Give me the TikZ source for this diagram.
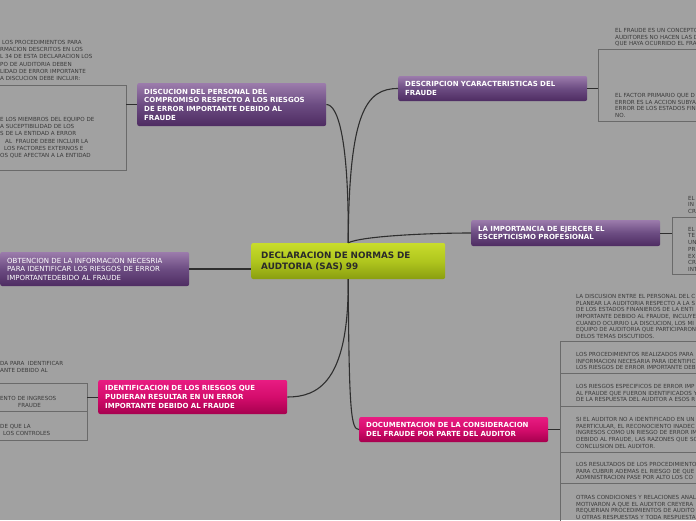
\documentclass[tikz,border=0pt]{standalone}
\usepackage{fontspec}
\setmainfont{DejaVu Sans}
\usepackage[HTML]{xcolor}
\usetikzlibrary{positioning}

\definecolor{bgGray}{HTML}{A1A1A1}
\definecolor{branchDark}{HTML}{2E2E2E}
\definecolor{leafLine}{HTML}{6A6A6A}
\definecolor{leafText}{HTML}{3A3A3A}
\definecolor{purpleTop}{HTML}{9C7CAC}
\definecolor{purpleMid}{HTML}{6C4C82}
\definecolor{purpleBot}{HTML}{4E2C62}
\definecolor{pinkTop}{HTML}{E81C82}
\definecolor{pinkMid}{HTML}{D40C6C}
\definecolor{pinkBot}{HTML}{A6004E}
\definecolor{limeTop}{HTML}{C8DC2C}
\definecolor{limeMid}{HTML}{B0C61E}
\definecolor{limeBot}{HTML}{8A9E10}
\definecolor{mainText}{HTML}{2A2A2A}

\tikzset{
  topic/.style={anchor=west, rounded corners=2pt, text width=175pt, inner xsep=7pt,
    inner ysep=2pt, align=left, text=white, font=\fontsize{7}{8.7}\selectfont\bfseries},
  purpleTopic/.style={topic, top color=purpleTop, bottom color=purpleBot, middle color=purpleMid},
  pinkTopic/.style={topic, top color=pinkTop, bottom color=pinkBot, middle color=pinkMid},
  mainTopic/.style={topic, text width=174pt, inner xsep=10pt, text=mainText,
    font=\fontsize{8.8}{11}\selectfont\bfseries,
    top color=limeTop, bottom color=limeBot, middle color=limeMid},
  leaf/.style={anchor=north west, inner sep=0pt, align=left, text=leafText,
    font=\fontsize{5.6}{6.7}\selectfont},
  wideLeaf/.style={leaf, font=\fontsize{5.6}{7.3}\selectfont},
  branch/.style={draw=branchDark, line width=1.1pt},
  stub/.style={draw=branchDark, line width=0.8pt},
  bracket/.style={draw=leafLine, line width=0.8pt}
}

\begin{document}
\begin{tikzpicture}[x=1pt,y=-1pt]
\useasboundingbox (0,0) rectangle (696,520);
\fill[bgGray] (0,0) rectangle (696,520);
\clip (0,0) rectangle (696,520);

% central topic
\node[mainTopic, minimum height=36pt] (sas) at (251,261) {DECLARACION DE NORMAS DE\\AUDTORIA (SAS) 99};

% main branches
\node[purpleTopic, minimum height=43pt] (discu) at (137,104.5) {DISCUCION DEL PERSONAL DEL\\COMPROMISO RESPECTO A LOS RIESGOS\\DE ERROR IMPORTANTE DEBIDO AL\\FRAUDE};
\node[purpleTopic, minimum height=25pt] (descr) at (398,88.5) {DESCRIPCION YCARACTERISTICAS DEL\\FRAUDE};
\node[purpleTopic, minimum height=26pt] (escep) at (471,233) {LA IMPORTANCIA DE EJERCER EL\\ESCEPTICISMO PROFESIONAL};
\node[purpleTopic, minimum height=34pt, font=\fontsize{7}{8.5}\selectfont] (obten) at (0,269) {OBTENCION DE LA INFORMACION NECESRIA\\PARA IDENTIFICAR LOS RIESGOS DE ERROR\\IMPORTANTEDEBIDO AL FRAUDE};
\node[pinkTopic, minimum height=34pt] (ident) at (98,397) {IDENTIFICACION DE LOS RIESGOS QUE\\PUDIERAN RESULTAR EN UN ERROR\\IMPORTANTE DEBIDO AL FRAUDE};
\node[pinkTopic, minimum height=25pt] (docum) at (359,429.5) {DOCUMENTACION DE LA CONSIDERACION\\DEL FRAUDE POR PARTE DEL AUDITOR};

\draw[branch] (sas.north) .. controls (349,140) and (338,104.5) .. (discu.east);
\draw[branch] (sas.north) .. controls (349,112) and (366,88.5) .. (descr.west);
\draw[branch] (sas.north) .. controls (362,236) and (430,233) .. (escep.west);
\draw[branch] (obten.east) -- (obten.east -| sas.west);
\draw[branch] (sas.south) .. controls (349,382) and (318,397) .. (ident.east);
\draw[branch] (sas.south) .. controls (349,412) and (351,429.5) .. (docum.west);

% discucion: leaves
\coordinate (discuIn) at (126,104.5);
\draw[bracket] (0,85) -- (126,85) -- (126,170) -- (0,170);
\draw[stub] (discu.west) -- (discuIn);
\node[wideLeaf] (procA) at (2,40) {LOS PROCEDIMIENTOS PARA};
\node[wideLeaf] (procB) at (0,47.3) {RMACION DESCRITOS EN LOS\\L 34 DE ESTA DECLARACION LOS\\PO DE AUDITORIA DEBEN\\LIDAD DE ERROR IMPORTANTE\\A DISCUCION DEBE INCLUIR:};
\node[wideLeaf] (miembros) at (0,117) {E LOS MIEMBROS DEL EQUIPO DE\\A SUCEPTIBILIDAD DE LOS\\S DE LA ENTIDAD A ERROR\\\hspace*{5pt}AL\ \ FRAUDE DEBE INCLUIR LA\\\hspace*{4pt}LOS FACTORES EXTERNOS E\\OS QUE AFECTAN A LA ENTIDAD};

% descripcion: leaves
\coordinate (descrIn) at (598,88.5);
\draw[bracket] (696,49) -- (598,49) -- (598,121) -- (696,121);
\draw[stub] (descr.east) -- (descrIn);
\node[leaf] (concepto) at (615,28) {EL FRAUDE ES UN CONCEPTO\\AUDITORES NO HACEN LAS D\\QUE HAYA OCURRIDO EL FRA};
\node[leaf] (factor) at (615,93) {EL FACTOR PRIMARIO QUE D\\ERROR ES LA ACCION SUBYA\\ERROR DE LOS ESTADOS FIN\\NO.};

% escepticismo: leaves
\coordinate (escepIn) at (672,233);
\draw[bracket] (696,217) -- (672,217) -- (672,274) -- (696,274);
\draw[stub] (escep.east) -- (escepIn);
\node[leaf] (escA) at (688,196) {EL\\IN\\CR};
\node[leaf] (escB) at (688,227) {EL\\TE\\UN\\PR\\EX\\CR\\INT};

% identificacion: leaves
\coordinate (identIn) at (87,397);
\draw[bracket] (0,383) -- (87,383) -- (87,440) -- (0,440);
\draw[bracket] (0,411.5) -- (87,411.5);
\draw[stub] (ident.west) -- (identIn);
\node[leaf] (idA) at (0,361) {DA PARA\ \ IDENTIFICAR\\ANTE DEBIDO AL};
\node[leaf] (idB) at (0,396) {ENTO DE INGRESOS\\\hspace*{18pt}FRAUDE};
\node[leaf] (idC) at (0,424) {DE QUE LA\\\hspace*{3pt}LOS CONTROLES};

% documentacion: leaves
\coordinate (documIn) at (560,429.5);
\draw[bracket] (696,341) -- (560,341) -- (560,525);
\foreach \yy in {373,406,452,483}
  \draw[bracket] (560,\yy) -- (696,\yy);
\draw[stub] (docum.east) -- (documIn);
\node[leaf] (docA) at (576,294) {LA DISCUSION ENTRE EL PERSONAL DEL C\\PLANEAR LA AUDITORIA RESPECTO A LA S\\DE LOS ESTADOS FINANIEROS DE LA ENTI\\IMPORTANTE DEBIDO AL FRAUDE, INCLUYE\\CUANDO OCURRIO LA DISCUCION, LOS MI\\EQUIPO DE AUDITORIA QUE PARTICIPARON\\DELOS TEMAS DISCUTIDOS.};
\node[leaf] (docB) at (576,352) {LOS PROCEDIMIENTOS REALIZADOS PARA\\INFORMACION NECESARIA PARA IDENTIFIC\\LOS RIESGOS DE ERROR IMPORTANTE DEB};
\node[leaf] (docC) at (576,384) {LOS RIESGOS ESPECIFICOS DE ERROR IMP\\AL FRAUDE QUE FUERON IDENTIFICADOS Y\\DE LA RESPUESTA DEL AUDITOR A ESOS R};
\node[leaf] (docD) at (576,417) {SI EL AUDITOR NO A IDENTIFICADO EN UN\\PAERTICULAR, EL RECONOCIENTO INADEC\\INGRESOS COMO UN RIESGO DE ERROR IM\\DEBIDO AL FRAUDE, LAS RAZONES QUE SO\\CONCLUSION DEL AUDITOR.};
\node[leaf] (docE) at (576,462) {LOS RESULTADOS DE LOS PROCEDIMIENTO\\PARA CUBRIR ADEMAS EL RIESGO DE QUE\\ADMINISTRACION PASE POR ALTO LOS CO};
\node[leaf] (docF) at (576,495) {OTRAS CONDICIONES Y RELACIONES ANAL\\MOTIVARON A QUE EL AUDITOR CREYERA\\REQUERIAN PROCEDIMIENTOS DE AUDITO\\U OTRAS RESPUESTAS Y TODA RESPUESTA};
\end{tikzpicture}
\end{document}
